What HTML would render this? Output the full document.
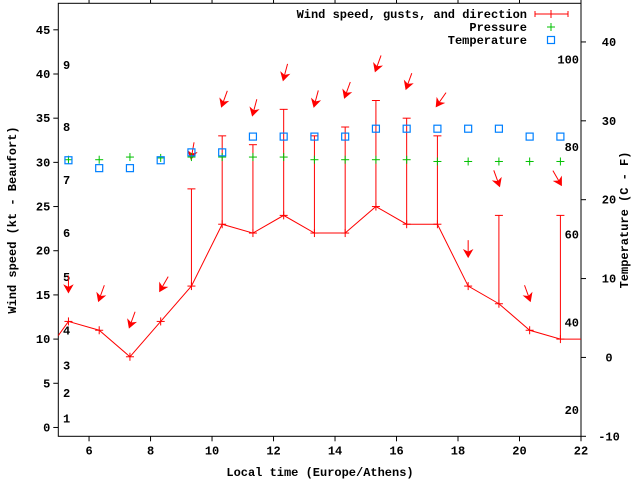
<!DOCTYPE html>
<html><head><meta charset="utf-8"><style>
body{margin:0;background:#fff}
svg{display:block;font-family:"Liberation Mono","DejaVu Sans Mono",monospace;font-weight:bold;font-size:12px}
</style></head><body>
<svg id="c" width="640" height="480" viewBox="0 0 640 480"></svg>
<script>
const times=[5.33,6.33,7.33,8.33,9.33,10.33,11.33,12.33,13.33,14.33,15.33,16.33,17.33,18.33,19.33,20.33,21.33];
const speed=[12,11,8,12,16,23,22,24,22,22,25,23,23,16,14,11,10];
const gust=[null,null,null,null,27,33,32,36,33,34,37,35,33,null,24,null,24];
const pressure=[30.3,30.3,30.6,30.5,30.6,30.6,30.6,30.6,30.3,30.3,30.3,30.3,30.1,30.1,30.1,30.1,30.1];
const tempC=[25,24,24,25,26,26,28,28,28,28,29,29,29,29,29,28,28];
const arrowKt=[15.5,14.5,11.5,15.6,30.6,36.5,35.5,39.5,36.5,37.5,40.5,38.5,36.5,19.5,27.5,14.5,27.6];
const windFrom=[0,20,20,30,10,20,15,15,15,20,20,20,35,0,-20,-20,-30];
const xTicks=[6,8,10,12,14,16,18,20,22];
const yTicks=[0,5,10,15,20,25,30,35,40,45];
const cTicks=[-10,0,10,20,30,40];
const fTicks=[20,40,60,80,100];
const bftLabels=["1","2","3","4","5","6","7","8","9"];
const bftKt=[1,3.9,7,11,17,22,28,34,41];

const L=58.3,R=581,T=3.3,B=436.3;
const X=v=>L+(v-5)*(R-L)/17;
const Y=v=>B-(v+1)*(B-T)/49;
const YC=c=>B-(c+10)*(B-T)/54.9;
const svg=document.getElementById('c');
const NS='http://www.w3.org/2000/svg';
function mk(tag,at,parent){const e=document.createElementNS(NS,tag);for(const k in at)e.setAttribute(k,at[k]);(parent||svg).appendChild(e);return e;}
const RED='#ff0000',GRN='#00c000',BLU='#0080ff';

let b=mk('rect',{x:L,y:T,width:R-L,height:B-T,fill:'none',stroke:'#000','stroke-width':1});



xTicks.forEach(v=>{
  let g=mk('g',{});
  
  
  mk('line',{x1:X(v),x2:X(v),y1:B,y2:B+5,stroke:'#000'},g);
  mk('line',{x1:X(v),x2:X(v),y1:T,y2:T-5,stroke:'#000'},g);
  let t=mk('text',{x:X(v),y:B+18,'text-anchor':'middle'},g);t.textContent=v;
});
yTicks.forEach(v=>{
  let g=mk('g',{});
  
  
  mk('line',{x1:L-5,x2:L,y1:Y(v),y2:Y(v),stroke:'#000'},g);
  let t=mk('text',{x:L-8,y:Y(v)+4,'text-anchor':'end'},g);t.textContent=v;
});
cTicks.forEach(v=>{
  let g=mk('g',{});
  
  
  mk('line',{x1:R,x2:R+5,y1:YC(v),y2:YC(v),stroke:'#000'},g);
  let t=mk('text',{x:R+28,y:YC(v)+4,'text-anchor':'middle'},g);t.textContent=v;
});
fTicks.forEach(f=>{
  let t=mk('text',{x:R-2,y:YC((f-32)*5/9)+4,'text-anchor':'end'});
  t.textContent=f;
  
  
});
bftLabels.forEach((s,i)=>{
  let t=mk('text',{x:63,y:Y(bftKt[i])+4});
  t.textContent=s;
  
  
});

let xl=mk('text',{x:320,y:476,'text-anchor':'middle'});xl.textContent='Local time (Europe/Athens)';

let yl=mk('text',{x:0,y:0,'text-anchor':'middle',transform:'translate(16,220) rotate(-90)'});yl.textContent='Wind speed (kt - Beaufort)';

let y2l=mk('text',{x:0,y:0,'text-anchor':'middle',transform:'translate(628,220) rotate(-90)'});y2l.textContent='Temperature (C - F)';


// wind line (extends off both edges)
let pts=times.map((t,i)=>X(t)+','+Y(speed[i]));
let first=L+','+Y(10.4), last=R+','+Y(speed[speed.length-1]);
let wl=mk('polyline',{points:[first].concat(pts,[last]).join(' '),fill:'none',stroke:RED,'stroke-width':1});

times.forEach((t,i)=>{
  let g=mk('g',{stroke:RED,'stroke-width':1});
  
  
  const x=X(t),y=Y(speed[i]);
  mk('line',{x1:x-4,x2:x+4,y1:y,y2:y},g);mk('line',{x1:x,x2:x,y1:y-4,y2:y+4},g);
  if(gust[i]!=null){
    const gy=Y(gust[i]);
    mk('line',{x1:x,x2:x,y1:y,y2:gy},g);mk('line',{x1:x-4,x2:x+4,y1:gy,y2:gy},g);
  }
});
// direction arrows
times.forEach((t,i)=>{
  const x=X(t),y=Y(arrowKt[i]);
  let g=mk('g',{transform:`translate(${x},${y}) rotate(${windFrom[i]})`});
  
  
  mk('line',{x1:0,y1:-15,x2:0,y2:0,stroke:RED,'stroke-width':1},g);
  mk('polygon',{points:'0,2 -4,-5 0,-3 4,-5',fill:RED,stroke:RED},g);
});
// pressure
times.forEach((t,i)=>{
  const x=X(t),y=Y(pressure[i]);
  let g=mk('g',{stroke:GRN});
  
  
  mk('line',{x1:x-4,x2:x+4,y1:y,y2:y},g);mk('line',{x1:x,x2:x,y1:y-4,y2:y+4},g);
});
// temperature
times.forEach((t,i)=>{
  let r=mk('rect',{x:X(t)-3.5,y:YC(tempC[i])-3.5,width:7,height:7,fill:'none',stroke:BLU,'stroke-width':1.2});
  
  
});
// legend
const leg=mk('g',{});


[['Wind speed, gusts, and direction',0],['Pressure',1],['Temperature',2]].forEach(([s,i])=>{
  let g=mk('g',{},leg);
  
  
  const y=14+i*13;
  let t=mk('text',{x:527,y:y+4,'text-anchor':'end'},g);t.textContent=s;
  if(i==0){mk('line',{x1:535,x2:568,y1:y,y2:y,stroke:RED},g);mk('line',{x1:535,x2:535,y1:y-3,y2:y+3,stroke:RED},g);mk('line',{x1:568,x2:568,y1:y-3,y2:y+3,stroke:RED},g);mk('line',{x1:551,x2:551,y1:y-4,y2:y+4,stroke:RED},g);}
  if(i==1){mk('line',{x1:547,x2:555,y1:y,y2:y,stroke:GRN},g);mk('line',{x1:551,x2:551,y1:y-4,y2:y+4,stroke:GRN},g);}
  if(i==2){mk('rect',{x:547.5,y:y-3.5,width:7,height:7,fill:'none',stroke:BLU,'stroke-width':1.2},g);}
});
</script>
</body></html>
